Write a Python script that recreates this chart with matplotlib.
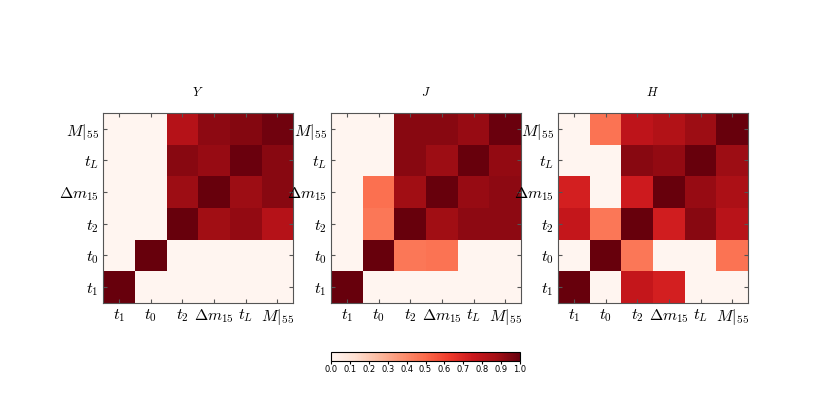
import matplotlib
matplotlib.use('Agg')
import matplotlib.pyplot as plt
import numpy as np

plt.rcParams['mathtext.fontset'] = 'cm'

# parameter labels (same order on both axes, rows from bottom to top)
params = [r'$t_1$', r'$t_0$', r'$t_2$', r'$\Delta m_{15}$', r'$t_L$', r'$M|_{55}$']
bands = [r'$Y$', r'$J$', r'$H$']

# correlation magnitudes, row i = y-parameter, column j = x-parameter
corr_Y = [
    [1.00, 0.00, 0.00, 0.00, 0.00, 0.00],
    [0.00, 1.00, 0.00, 0.00, 0.00, 0.00],
    [0.00, 0.00, 1.00, 0.88, 0.91, 0.82],
    [0.00, 0.00, 0.89, 1.00, 0.89, 0.93],
    [0.00, 0.00, 0.93, 0.90, 0.99, 0.93],
    [0.00, 0.00, 0.82, 0.92, 0.94, 0.98],
]
corr_J = [
    [1.00, 0.00, 0.00, 0.00, 0.00, 0.00],
    [0.00, 1.00, 0.46, 0.47, 0.00, 0.00],
    [0.00, 0.46, 1.00, 0.88, 0.92, 0.92],
    [0.00, 0.48, 0.88, 1.00, 0.90, 0.92],
    [0.00, 0.00, 0.93, 0.89, 1.00, 0.91],
    [0.00, 0.00, 0.93, 0.93, 0.90, 0.99],
]
corr_H = [
    [1.00, 0.00, 0.77, 0.72, 0.00, 0.00],
    [0.00, 1.00, 0.46, 0.00, 0.00, 0.47],
    [0.77, 0.46, 1.00, 0.73, 0.93, 0.81],
    [0.72, 0.00, 0.74, 1.00, 0.90, 0.85],
    [0.00, 0.00, 0.93, 0.91, 1.00, 0.89],
    [0.00, 0.47, 0.79, 0.83, 0.89, 1.00],
]
matrices = [corr_Y, corr_J, corr_H]

W, H = 830, 417
fig = plt.figure(figsize=(W / 100, H / 100), dpi=100)

lefts = [103, 331, 558]
size = 190
top = 113
for left, name, mat in zip(lefts, bands, matrices):
    ax = fig.add_axes([left / W, (H - top - size) / H, size / W, size / H])
    im = ax.imshow(np.array(mat), cmap='Reds', vmin=0, vmax=1,
                   origin='lower', interpolation='nearest', aspect='auto')
    ax.set_xticks(range(len(params)))
    ax.set_yticks(range(len(params)))
    ax.set_xticklabels(params, fontsize=11.5)
    ax.set_yticklabels(params, fontsize=11.5)
    ax.tick_params(direction='in', top=True, right=True, length=3,
                   color='#555555', pad=3)
    for sp in ax.spines.values():
        sp.set_color('#555555')
    ax.set_title(name, fontsize=9, pad=12)

cax = fig.add_axes([331 / W, (H - 361) / H, 189 / W, 9 / H])
cb = fig.colorbar(im, cax=cax, orientation='horizontal',
                  ticks=np.linspace(0, 1, 11))
cb.ax.tick_params(labelsize=6, length=2, pad=1)
cb.outline.set_linewidth(0.8)

fig.savefig('out.png', dpi=100)
